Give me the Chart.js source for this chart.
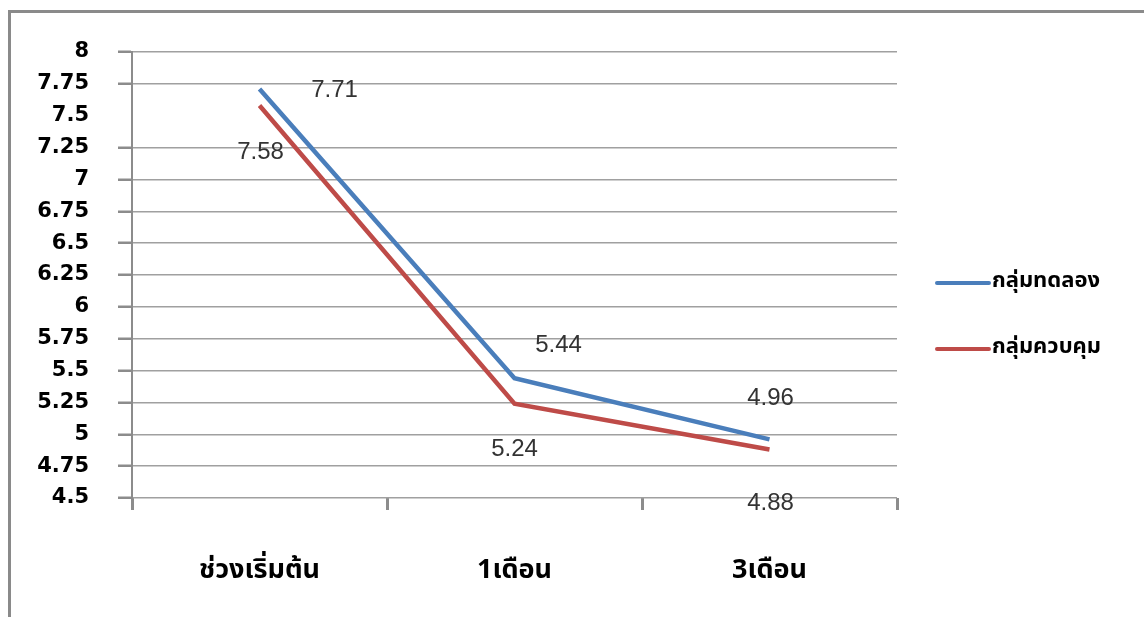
<!DOCTYPE html>
<html>
<head>
<meta charset="utf-8">
<script src="https://cdn.jsdelivr.net/npm/chart.js@4.4.1/dist/chart.umd.min.js"></script>
<style>
  html, body { margin: 0; padding: 0; background: #fff; }
  #wrap { position: relative; width: 1144px; height: 617px; overflow: hidden; }
  #frame {
    position: absolute; left: 8px; top: 10px; width: 1200px; height: 700px;
    border-left: 3px solid #8a8a8a; border-top: 3px solid #8a8a8a;
  }
  canvas { position: absolute; left: 0; top: 0; }
</style>
</head>
<body>
<div id="wrap">
  <div id="frame"></div>
  <canvas id="chart" width="1144" height="617"></canvas>
</div>
<script>
const periods = ["ช่วงเริ่มต้น", "1เดือน", "3เดือน"];
const experimentGroup = [7.71, 5.44, 4.96];
const controlGroup = [7.58, 5.24, 4.88];
const seriesNames = ["กลุ่มทดลอง", "กลุ่มควบคุม"];

const BLUE = "#4a7ebb";
const RED = "#be4b48";
const THAI_FONT = "'Noto Sans Thai', 'Noto Sans', 'DejaVu Sans', sans-serif";

// value labels, nudged around each point (dx, dy in px)
const valueLabels = {
  id: "valueLabels",
  afterDatasetsDraw(chart, args, opts) {
    const ctx = chart.ctx;
    ctx.save();
    ctx.font = "24px 'Liberation Sans', Arial, sans-serif";
    ctx.fillStyle = "#333";
    ctx.textAlign = "center";
    ctx.textBaseline = "middle";
    chart.data.datasets.forEach((ds, i) => {
      const meta = chart.getDatasetMeta(i);
      meta.data.forEach((pt, j) => {
        const [dx, dy] = opts.offsets[i][j];
        ctx.fillText(ds.data[j].toFixed(2), pt.x + dx, pt.y + dy);
      });
    });
    ctx.restore();
  }
};

// legend drawn to the right of the plot
const sideLegend = {
  id: "sideLegend",
  afterDraw(chart, args, opts) {
    const ctx = chart.ctx;
    ctx.save();
    ctx.font = "bold 22px " + THAI_FONT;
    ctx.textBaseline = "middle";
    chart.data.datasets.forEach((ds, i) => {
      const y = opts.top + i * opts.gap;
      ctx.strokeStyle = ds.borderColor;
      ctx.lineWidth = 4;
      ctx.lineCap = "round";
      ctx.beginPath();
      ctx.moveTo(opts.left, y);
      ctx.lineTo(opts.left + 52, y);
      ctx.stroke();
      ctx.fillStyle = "#000";
      ctx.fillText(ds.label, opts.left + 55, y);
    });
    ctx.restore();
  }
};

new Chart(document.getElementById("chart"), {
  type: "line",
  data: {
    labels: periods,
    datasets: [
      {
        label: seriesNames[0],
        data: experimentGroup,
        borderColor: BLUE,
        backgroundColor: BLUE,
        borderWidth: 4.5,
        pointRadius: 0,
        tension: 0,
      },
      {
        label: seriesNames[1],
        data: controlGroup,
        borderColor: RED,
        backgroundColor: RED,
        borderWidth: 4.5,
        pointRadius: 0,
        tension: 0,
      },
    ],
  },
  options: {
    responsive: false,
    animation: false,
    layout: { padding: { top: 52, right: 247, left: 0, bottom: 0 } },
    plugins: {
      legend: { display: false },
      tooltip: { enabled: false },
      valueLabels: {
        offsets: [
          [[75, 1], [44, -33], [1, -41]],
          [[1, 47], [0, 46], [1, 54]],
        ],
      },
      sideLegend: { left: 937, top: 283, gap: 66 },
    },
    scales: {
      x: {
        offset: true,
        afterFit: (axis) => { axis.height = 119; },
        grid: {
          offset: true,
          drawOnChartArea: false,
          drawTicks: true,
          tickLength: 12,
          color: "#8c8c8c",
          tickWidth: 3,
        },
        border: { display: false },
        ticks: {
          padding: 46,
          color: "#000",
          font: { family: THAI_FONT, size: 27, weight: "bold" },
        },
      },
      y: {
        min: 4.5,
        max: 8,
        afterFit: (axis) => { axis.width = 132; },
        afterBuildTicks: (axis) => {
          axis.ticks = [];
          for (let v = 4.5; v <= 8.0001; v += 0.25) axis.ticks.push({ value: Math.round(v * 100) / 100 });
        },
        grid: {
          color: (c) => (c.tick && c.tick.value === 7.5 ? "rgba(0,0,0,0)" : "#a0a0a0"),
          lineWidth: 1.5,
          tickLength: 14,
          tickColor: (c) => (c.tick && c.tick.value === 7.5 ? "rgba(0,0,0,0)" : "#8c8c8c"),
          tickWidth: 2.5,
        },
        border: { display: true, color: "#8c8c8c", width: 2 },
        ticks: {
          padding: 29,
          color: "#000",
          font: { family: "'DejaVu Sans', sans-serif", size: 21, weight: "bold" },
          callback: (v) => String(v),
        },
      },
    },
  },
  plugins: [valueLabels, sideLegend],
});
</script>
</body>
</html>
